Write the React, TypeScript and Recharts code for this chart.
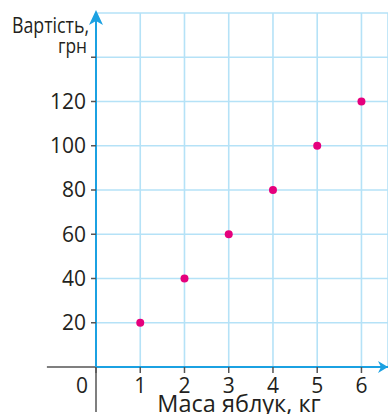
import {
  ScatterChart,
  Scatter,
  XAxis,
  YAxis,
  CartesianGrid,
  ReferenceLine,
  ReferenceDot,
  Label,
} from 'recharts'

const masses = [1, 2, 3, 4, 5, 6]
const costs = [20, 40, 60, 80, 100, 120]
const xTicks = [0, 1, 2, 3, 4, 5, 6]
const yTicks = [20, 40, 60, 80, 100, 120, 140]

const points = masses.map((m, i) => ({ mass: m, cost: costs[i] }))

const AXIS = '#1ba1e2'
const GRID = '#b5e2f7'
const DARK = '#555555'
const TEXT = '#231f20'
const FONT = '"Open Sans", sans-serif'

const XTick = ({ x, y, payload }: any) => (
  <text
    x={payload.value === 0 ? x - 14 : x}
    y={y}
    dy="0.71em"
    textAnchor="middle"
    fontSize={21}
    fontFamily={FONT}
    fill={TEXT}
  >
    {payload.value}
  </text>
)

const YTick = ({ x, y, payload }: any) => {
  if (payload.value === 140) {
    // unit goes where the 140 label would be
    return (
      <text
        x={x + 1}
        y={y - 4}
        textAnchor="end"
        fontSize={20}
        fontFamily={FONT}
        fill={TEXT}
        textLength={29}
        lengthAdjust="spacingAndGlyphs"
      >
        грн
      </text>
    )
  }
  return (
    <text x={x} y={y} dy="0.355em" textAnchor="end" fontSize={21} fontFamily={FONT} fill={TEXT}>
      {payload.value}
    </text>
  )
}

const YTitle = ({ viewBox }: any) => (
  <text
    x={viewBox.x + viewBox.width - 7}
    y={viewBox.y + 20}
    textAnchor="end"
    fontSize={21}
    fontFamily={FONT}
    fill={TEXT}
    textLength={77}
    lengthAdjust="spacingAndGlyphs"
  >
    Вартість,
  </text>
)

const XTitle = ({ viewBox }: any) => (
  <text
    x={viewBox.x + viewBox.width / 2 - 3}
    y={viewBox.y + 45}
    textAnchor="middle"
    fontSize={23.5}
    fontFamily={FONT}
    fill={TEXT}
  >
    Маса яблук, кг
  </text>
)

const Dot = ({ cx, cy }: any) => <circle cx={cx} cy={cy} r={4} fill="#e5007d" />

const UpArrow = ({ cx, cy }: any) => (
  <path
    d={`M${cx},${cy - 3} L${cx + 7},${cy + 12} L${cx},${cy + 8} L${cx - 7},${cy + 12} Z`}
    fill={AXIS}
  />
)

const RightArrow = ({ cx, cy }: any) => (
  <path
    d={`M${cx},${cy} L${cx - 10},${cy - 6} L${cx - 7},${cy} L${cx - 10},${cy + 6} Z`}
    fill={AXIS}
  />
)

export default function App() {
  return (
    <div style={{ position: 'absolute', left: 0, top: 0, background: '#fff' }}>
      <ScatterChart width={388} height={414} margin={{ top: 13, right: 0, bottom: 0, left: 0 }}>
        <CartesianGrid stroke={GRID} strokeWidth={1.6} />
        <XAxis
          type="number"
          dataKey="mass"
          domain={[0, 6.6]}
          ticks={xTicks}
          height={47}
          tickSize={6}
          tickMargin={5}
          axisLine={{ stroke: AXIS, strokeWidth: 2 }}
          tickLine={{ stroke: DARK, strokeWidth: 1.5 }}
          tick={<XTick />}
          allowDataOverflow
        >
          <Label content={<XTitle />} />
        </XAxis>
        <YAxis
          type="number"
          dataKey="cost"
          domain={[0, 160]}
          ticks={yTicks}
          width={96}
          tickSize={5}
          tickMargin={5}
          axisLine={{ stroke: AXIS, strokeWidth: 2 }}
          tickLine={{ stroke: DARK, strokeWidth: 1.5 }}
          tick={<YTick />}
          allowDataOverflow
        >
          <Label content={<YTitle />} />
        </YAxis>
        <ReferenceLine
          segment={[{ x: -1.11, y: 0 }, { x: 0, y: 0 }]}
          stroke={DARK}
          strokeWidth={1.5}
          ifOverflow="visible"
        />
        <ReferenceLine
          segment={[{ x: 0, y: 0 }, { x: 0, y: -20.3 }]}
          stroke={DARK}
          strokeWidth={1.5}
          ifOverflow="visible"
        />
        <Scatter data={points} shape={<Dot />} isAnimationActive={false} />
        <ReferenceDot x={0} y={160} ifOverflow="visible" shape={<UpArrow />} />
        <ReferenceDot x={6.6} y={0} ifOverflow="visible" shape={<RightArrow />} />
      </ScatterChart>
    </div>
  )
}
